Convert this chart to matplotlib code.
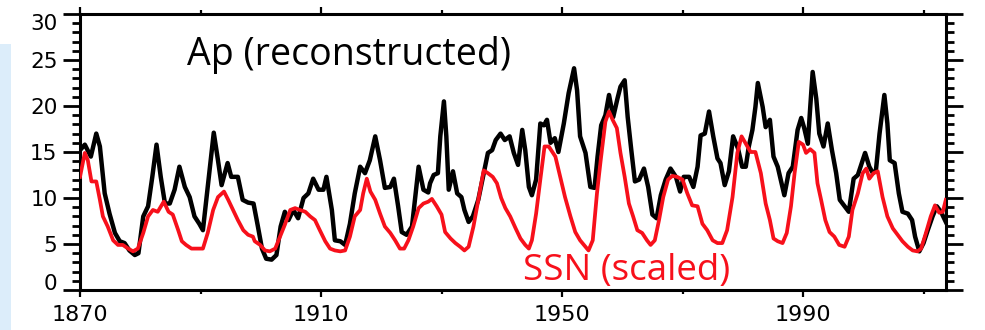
import matplotlib
matplotlib.use("Agg")
import matplotlib.pyplot as plt
from matplotlib.patches import Rectangle
from matplotlib.ticker import MultipleLocator, FixedLocator
from matplotlib.transforms import ScaledTranslation

# Reconstructed geomagnetic Ap index
ap_year = [1870.0, 1870.8, 1871.8, 1872.7, 1873.3, 1874.1, 1874.9, 1875.8, 1876.6, 1877.4,
           1878.2, 1879.1, 1879.7, 1880.5, 1881.3, 1882.0, 1882.7, 1883.4, 1884.1, 1884.9,
           1885.7, 1886.5, 1887.4, 1888.2, 1889.0, 1889.8, 1890.4, 1891.2, 1892.2, 1892.9,
           1893.5, 1894.5, 1895.1, 1896.2, 1897.0, 1897.9, 1898.8, 1899.5, 1900.2, 1900.9,
           1901.8, 1902.6, 1903.3, 1904.0, 1904.6, 1905.4, 1906.2, 1907.1, 1907.9, 1908.7,
           1909.6, 1910.4, 1910.9, 1911.8, 1912.3, 1913.2, 1914.0, 1914.8, 1915.6, 1916.5,
           1917.3, 1918.1, 1919.0, 1919.8, 1920.6, 1921.5, 1922.1, 1922.8, 1923.4, 1924.2,
           1925.1, 1926.2, 1927.0, 1927.8, 1928.1, 1928.7, 1929.4, 1929.8, 1930.4, 1930.8,
           1931.2, 1931.9, 1932.6, 1933.3, 1933.8, 1934.5, 1935.2, 1936.1, 1937.0, 1937.7,
           1938.4, 1939.0, 1939.8, 1940.5, 1941.3, 1942.0, 1942.7, 1943.4, 1943.9, 1944.5,
           1945.0, 1945.7, 1946.4, 1947.0, 1947.5, 1948.1, 1948.8, 1949.4, 1950.3, 1951.1,
           1952.0, 1952.5, 1953.0, 1953.9, 1954.7, 1955.4, 1955.9, 1956.5, 1957.2, 1957.8,
           1958.5, 1959.2, 1959.7, 1960.4, 1960.9, 1961.5, 1962.1, 1962.8, 1963.6, 1964.3,
           1965.0, 1965.7, 1966.4, 1967.2, 1968.0, 1968.9, 1969.6, 1970.2, 1971.1, 1971.8,
           1972.5, 1973.0, 1973.7, 1974.4, 1975.1, 1975.8, 1976.3, 1977.0, 1977.7, 1978.4,
           1979.2, 1979.9, 1980.5, 1981.0, 1981.6, 1982.1, 1982.5, 1983.3, 1983.8, 1984.5,
           1985.1, 1985.8, 1986.3, 1986.9, 1987.6, 1988.3, 1989.1, 1989.7, 1990.2, 1990.8,
           1991.2, 1991.6, 1992.2, 1992.7, 1993.4, 1994.1, 1994.8, 1995.5, 1996.1, 1996.9,
           1997.6, 1998.4, 1999.1, 1999.9, 2000.3, 2001.0, 2001.6, 2002.1, 2002.7, 2003.5,
           2004.0, 2004.4, 2005.2, 2005.9, 2006.5, 2007.4, 2008.1, 2008.6, 2009.3, 2010.0,
           2010.7, 2011.5, 2012.2, 2012.9, 2013.7]
ap_value = [15.2, 15.8, 14.5, 17.0, 15.6, 10.5, 8.3, 6.2, 5.3, 5.1,
            4.3, 3.8, 4.0, 8.0, 9.1, 12.3, 15.8, 12.3, 9.4, 9.4,
            10.9, 13.4, 11.2, 10.1, 8.0, 7.2, 6.5, 11.2, 17.1, 14.1,
            11.4, 13.8, 12.3, 12.3, 9.8, 9.5, 9.4, 7.0, 4.5, 3.4,
            3.3, 3.8, 6.9, 8.5, 7.6, 8.7, 7.8, 10.0, 10.5, 12.1,
            10.9, 10.9, 12.3, 8.7, 5.4, 5.3, 4.9, 7.2, 10.5, 13.4,
            12.7, 14.1, 16.7, 14.1, 11.1, 11.2, 12.1, 9.1, 6.3, 6.0,
            6.9, 13.4, 10.9, 10.6, 11.6, 12.5, 12.7, 16.7, 20.5, 16.7,
            10.9, 12.9, 10.5, 10.1, 8.7, 7.4, 8.0, 9.8, 12.7, 14.9,
            15.2, 16.3, 17.0, 16.3, 16.7, 14.9, 13.6, 17.4, 15.2, 11.2,
            10.3, 12.0, 18.1, 17.9, 18.5, 16.0, 16.5, 15.0, 18.1, 21.4,
            24.1, 21.7, 16.7, 14.9, 11.2, 11.1, 14.5, 17.9, 19.0, 21.2,
            18.8, 20.8, 22.1, 22.8, 18.8, 15.2, 11.8, 12.0, 13.2, 11.2,
            8.2, 7.8, 10.3, 12.0, 13.2, 12.3, 10.7, 12.3, 12.3, 11.2,
            13.4, 16.8, 17.0, 19.4, 16.7, 14.3, 13.8, 11.4, 12.9, 16.7,
            15.4, 13.4, 13.4, 15.6, 17.4, 19.9, 22.5, 19.9, 17.7, 18.5,
            14.5, 13.4, 12.0, 10.3, 12.7, 13.4, 17.4, 18.7, 17.6, 15.9,
            19.9, 23.7, 20.8, 17.0, 15.6, 18.1, 15.2, 12.7, 9.8, 9.1,
            8.5, 12.1, 12.5, 14.1, 14.9, 13.4, 12.7, 13.0, 17.0, 21.2,
            18.1, 14.1, 13.8, 10.5, 8.5, 8.3, 7.6, 5.8, 4.2, 5.1,
            6.5, 8.0, 9.1, 8.5, 7.4]

# Sunspot number, scaled to the Ap range
ssn_year = [1870.0, 1870.8, 1871.3, 1871.9, 1872.7, 1873.3, 1873.8, 1874.6, 1875.5, 1876.3,
            1877.1, 1878.0, 1878.8, 1879.6, 1880.5, 1881.3, 1882.1, 1882.9, 1883.9, 1884.7,
            1885.4, 1886.3, 1886.9, 1887.6, 1888.5, 1889.3, 1890.4, 1891.2, 1892.1, 1892.9,
            1893.9, 1894.6, 1895.4, 1896.2, 1897.1, 1897.9, 1898.7, 1899.0, 1899.9, 1900.7,
            1901.5, 1902.4, 1903.2, 1904.0, 1904.9, 1905.7, 1906.5, 1907.4, 1908.2, 1909.0,
            1909.8, 1910.7, 1911.5, 1912.3, 1913.2, 1914.0, 1914.8, 1915.6, 1916.5, 1917.0,
            1917.6, 1918.2, 1919.0, 1919.8, 1920.6, 1921.5, 1922.3, 1923.1, 1923.8, 1924.5,
            1925.3, 1926.2, 1927.0, 1927.8, 1928.4, 1929.2, 1930.0, 1930.6, 1931.5, 1932.3,
            1933.1, 1933.8, 1934.5, 1935.3, 1936.2, 1937.0, 1937.7, 1938.5, 1939.2, 1939.9,
            1940.6, 1941.4, 1942.3, 1943.1, 1943.9, 1944.5, 1945.0, 1945.7, 1946.4, 1947.1,
            1947.8, 1948.4, 1948.9, 1949.7, 1950.5, 1951.4, 1952.2, 1953.0, 1953.9, 1954.4,
            1955.1, 1955.8, 1956.4, 1957.2, 1957.8, 1958.4, 1959.1, 1959.7, 1960.4, 1961.1,
            1961.8, 1962.5, 1963.3, 1964.1, 1964.7, 1965.4, 1966.1, 1966.8, 1967.6, 1968.3,
            1969.1, 1970.0, 1970.8, 1971.6, 1972.5, 1973.3, 1974.1, 1975.0, 1975.8, 1976.6,
            1977.4, 1978.3, 1979.1, 1979.8, 1980.5, 1981.3, 1982.1, 1983.0, 1983.8, 1984.5,
            1985.1, 1985.8, 1986.6, 1987.3, 1988.0, 1988.6, 1989.3, 1990.0, 1990.5, 1991.2,
            1991.9, 1992.4, 1993.0, 1993.7, 1994.4, 1995.2, 1996.0, 1996.9, 1997.6, 1998.2,
            1999.1, 1999.9, 2000.5, 2001.0, 2001.7, 2002.4, 2003.2, 2004.0, 2004.9, 2005.7,
            2006.5, 2007.4, 2008.2, 2009.0, 2009.6, 2010.4, 2011.2, 2011.9, 2012.6, 2013.2,
            2013.7]
ssn_value = [12.3, 14.9, 14.1, 11.8, 11.8, 9.8, 8.0, 6.9, 5.4, 4.9,
             4.9, 4.5, 4.2, 4.5, 6.2, 8.0, 8.7, 8.5, 9.6, 8.5,
             8.2, 6.5, 5.3, 4.9, 4.5, 4.5, 4.5, 6.2, 8.7, 10.1,
             10.7, 9.8, 8.7, 7.6, 6.5, 6.0, 5.8, 5.3, 4.9, 4.3,
             4.2, 4.5, 5.8, 7.1, 8.7, 8.9, 8.7, 8.5, 8.0, 7.6,
             6.5, 5.3, 4.5, 4.3, 4.2, 4.3, 5.8, 8.0, 8.7, 10.5,
             12.1, 10.7, 9.8, 8.3, 6.9, 6.2, 5.4, 4.5, 4.5, 5.4,
             6.9, 8.9, 9.4, 9.6, 9.9, 9.1, 8.2, 6.3, 5.6, 5.1,
             4.7, 4.3, 4.7, 6.9, 10.1, 13.0, 12.7, 12.3, 11.6, 10.0,
             8.9, 8.0, 6.7, 5.6, 4.9, 4.5, 5.4, 8.3, 12.0, 15.6,
             15.6, 15.0, 14.5, 12.3, 10.1, 8.0, 6.3, 5.4, 4.7, 4.3,
             5.4, 10.5, 14.0, 18.3, 19.4, 18.5, 17.6, 14.9, 12.3, 9.4,
             8.0, 6.5, 6.2, 5.4, 4.9, 5.4, 7.6, 10.1, 12.0, 12.4,
             12.3, 12.0, 10.5, 9.2, 9.1, 7.2, 6.5, 5.4, 5.1, 5.1,
             6.5, 10.1, 14.9, 16.7, 15.9, 15.0, 15.0, 12.7, 9.4, 7.6,
             5.6, 5.3, 5.1, 6.2, 9.1, 12.7, 16.1, 15.8, 14.9, 15.3,
             14.9, 11.6, 9.8, 7.6, 6.3, 5.8, 4.9, 4.7, 5.8, 8.7,
             10.5, 12.7, 13.2, 12.1, 12.7, 12.9, 10.1, 8.0, 6.7, 6.0,
             5.3, 4.7, 4.3, 4.2, 4.5, 6.2, 8.0, 9.2, 8.4, 8.5,
             9.8]

x_major = [1870, 1910, 1950, 1990]
x_minor = [1890, 1930, 1970, 2010]
x_labels = ["1870", "1910", "1950", "1990"]
y_major = [0, 5, 10, 15, 20, 25, 30]

RED = "#f7101b"

fig = plt.figure(figsize=(9.85, 3.3), dpi=100)

# pale blue strip along the left edge
fig.patches.append(Rectangle((0, 0), 11 / 985, 286 / 330, transform=fig.transFigure,
                             facecolor="#dcedfa", edgecolor="none", zorder=0))

ax = fig.add_axes([80 / 985, 40 / 330, 866 / 985, 276 / 330])
ax.plot(ap_year, ap_value, color="black", lw=3.2, solid_joinstyle="round", zorder=3)
ax.plot(ssn_year, ssn_value, color=RED, lw=2.7, solid_joinstyle="round", zorder=4)

ax.set_xlim(1870, 2013.73)
ax.set_ylim(0, 30)

for s in ax.spines.values():
    s.set_linewidth(2.2)

ax.xaxis.set_major_locator(FixedLocator(x_major))
ax.set_xticklabels(x_labels)
ax.xaxis.set_minor_locator(FixedLocator(x_minor))
ax.yaxis.set_major_locator(FixedLocator(y_major))
ax.yaxis.set_minor_locator(MultipleLocator(1))

ax.tick_params(axis="y", which="major", direction="out", length=12.2, width=2.0,
               left=True, right=True, labelleft=True, labelright=False,
               labelsize=15.5, pad=4)
ax.tick_params(axis="y", which="minor", direction="out", length=6.0, width=2.0,
               left=True, right=True)
ax.tick_params(axis="x", which="major", direction="out", length=5, width=1.6,
               top=True, bottom=True, labeltop=False, labelsize=16, pad=6)
ax.tick_params(axis="x", which="minor", direction="out", length=3, width=1.6,
               top=True, bottom=True)

for lab in ax.get_xticklabels() + ax.get_yticklabels():
    lab.set_fontfamily("DejaVu Sans")

# nudge the end labels of the y axis inward
ylabs = ax.get_yticklabels()
ylabs[0].set_transform(ylabs[0].get_transform() + ScaledTranslation(0, 6 / 72, fig.dpi_scale_trans))
ylabs[-1].set_transform(ylabs[-1].get_transform() + ScaledTranslation(0, -6 / 72, fig.dpi_scale_trans))

ax.text(1887.8, 24.5, "Ap (reconstructed)", fontsize=27, family="Open Sans",
        color="black", ha="left", va="baseline", zorder=5)
ax.text(1943.5, 1.1, "SSN (scaled)", fontsize=26.5, family="Open Sans",
        color=RED, ha="left", va="baseline", zorder=5)

fig.savefig("out.png", dpi=100)
